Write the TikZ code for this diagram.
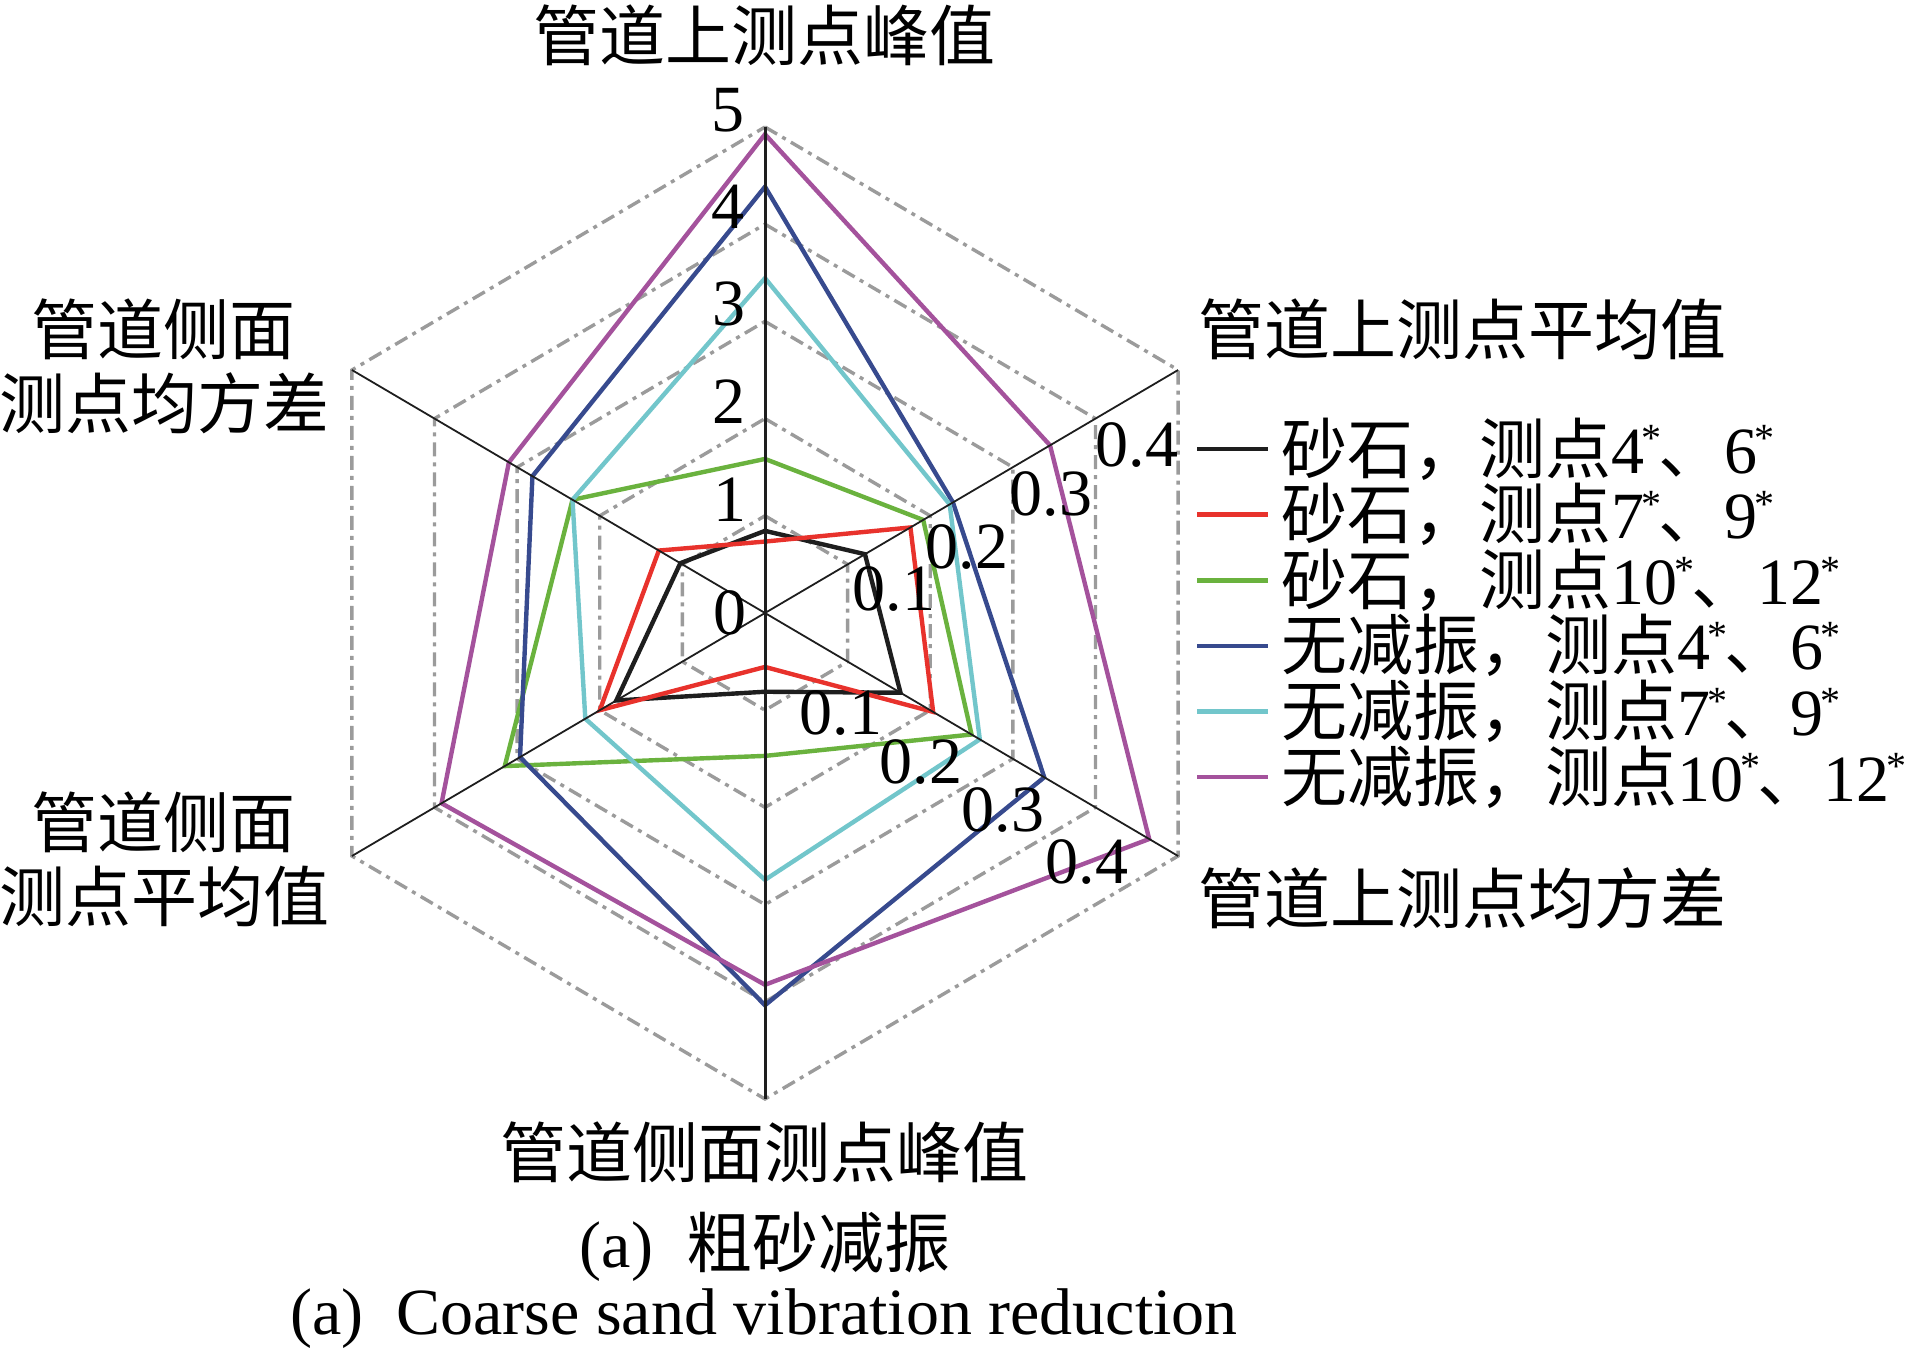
\documentclass[tikz,border=0pt]{standalone}
\usepackage{fontspec}
\setmainfont{Liberation Serif}
\newfontfamily\cjkf{Noto Sans CJK SC}
\newcommand\zh[1]{{\cjkf #1}}
\newcommand\astx{\kern-1.5pt\raisebox{0.32em}{\fontsize{20}{20}\selectfont *}\kern-1.5pt}
\definecolor{gridgray}{RGB}{155,155,155}
\definecolor{sblack}{RGB}{30,30,30}
\definecolor{sred}{RGB}{232,50,44}
\definecolor{sgreen}{RGB}{106,178,62}
\definecolor{sblue}{RGB}{55,74,142}
\definecolor{scyan}{RGB}{114,198,203}
\definecolor{smag}{RGB}{164,82,156}
\begin{document}
\begin{tikzpicture}[x=0.5pt,y=-0.5pt,
  font=\fontsize{33}{33}\selectfont,
  gridring/.style={draw=gridgray, line width=1.7pt, dash pattern=on 7pt off 3pt on 2pt off 3pt},
  axisv/.style={draw=sblack, line width=1.5pt},
  axisd/.style={draw=sblack, line width=0.9pt},
  series/.style={line width=2.2pt, line join=miter},
  legline/.style={line width=2.3pt},
  lbl/.style={inner sep=0pt, anchor=center},
  basel/.style={inner sep=0pt, anchor=base},
  legtxt/.style={inner sep=0pt, anchor=base west}
]
\useasboundingbox (0,0) rectangle (1910,1354);

\begin{scope}[shift={(765,613)}, x=238.5pt, y=243pt]
  \coordinate (O) at (0,0);
  \coordinate (A1) at (90:1);
  \coordinate (A2) at (30:1);
  \coordinate (A3) at (-30:1);
  \coordinate (A4) at (-90:1);
  \coordinate (A5) at (-150:1);
  \coordinate (A6) at (150:1);
  % grid rings
  \foreach \k in {1,...,5}
    \draw[gridring] (90:\k/5) -- (30:\k/5) -- (-30:\k/5) -- (-90:\k/5) -- (-150:\k/5) -- (150:\k/5) -- cycle;
  % series
  \draw[series, sblack] (90:0.169) -- (30:0.242) -- (-30:0.328) -- (-90:0.162) -- (-150:0.36) -- (150:0.205) -- cycle;
  \draw[series, sred] (90:0.147) -- (30:0.352) -- (-30:0.407) -- (-90:0.111) -- (-150:0.40) -- (150:0.257) -- cycle;
  \draw[series, sgreen] (90:0.317) -- (30:0.383) -- (-30:0.50) -- (-90:0.294) -- (-150:0.63) -- (150:0.466) -- cycle;
  \draw[series, sblue] (90:0.877) -- (30:0.455) -- (-30:0.676) -- (-90:0.807) -- (-150:0.593) -- (150:0.563) -- cycle;
  \draw[series, scyan] (90:0.689) -- (30:0.447) -- (-30:0.52) -- (-90:0.549) -- (-150:0.435) -- (150:0.466) -- cycle;
  \draw[series, smag] (90:0.985) -- (30:0.69) -- (-30:0.93) -- (-90:0.765) -- (-150:0.783) -- (150:0.62) -- cycle;
  % axes
  \draw[axisv] (A1) -- (A4);
  \draw[axisd] (A2) -- (A5);
  \draw[axisd] (A3) -- (A6);
\end{scope}

% tick labels, top axis
\node[lbl] (t5) at (728,110) {5};
\node[lbl] (t4) at (728,207) {4};
\node[lbl] (t3) at (729,304) {3};
\node[lbl] (t2) at (729,402) {2};
\node[lbl] (t1) at (730,500) {1};
\node[lbl] (t0) at (730,613) {0};
% upper right axis
\node[lbl] (u1) at (894,589) {0.1};
\node[lbl] (u2) at (967,547) {0.2};
\node[lbl] (u3) at (1051,494) {0.3};
\node[lbl] (u4) at (1137,445) {0.4};
% lower right axis
\node[lbl] (d1) at (841,713) {0.1};
\node[lbl] (d2) at (921,762) {0.2};
\node[lbl] (d3) at (1003,810) {0.3};
\node[lbl] (d4) at (1087,862) {0.4};

% axis titles
\node[lbl] (nTop) at (764,35) {\zh{管道上测点峰值}};
\node[lbl] (nUR) at (1462,329) {\zh{管道上测点平均值}};
\node[lbl] (nLR) at (1462,898) {\zh{管道上测点均方差}};
\node[lbl] (nBot) at (764,1152) {\zh{管道侧面测点峰值}};
\node[lbl] (nUL1) at (164,329) {\zh{管道侧面}};
\node[lbl] (nUL2) at (164,403) {\zh{测点均方差}};
\node[lbl] (nLL1) at (164,822) {\zh{管道侧面}};
\node[lbl] (nLL2) at (164,896) {\zh{测点平均值}};

% captions
\node[basel] (cap1) at (765,1267) {(a)\hspace{0.5em}\zh{粗砂减振}};
\node[basel] (cap2) at (764,1334) {(a)\hspace{0.5em}Coarse sand vibration reduction};

% legend
\foreach \i/\c in {0/sblack,1/sred,2/sgreen,3/sblue,4/scyan,5/smag}{
  \coordinate (La\i) at (1197,{449+65.6*\i});
  \coordinate (Lb\i) at (1268,{449+65.6*\i});
  \draw[legline, \c] (La\i) -- (Lb\i);
}
\node[legtxt] (g1) at (1281,473) {\zh{砂石，测点}4\astx\zh{、}6\astx};
\node[legtxt] (g2) at (1281,538.6) {\zh{砂石，测点}7\astx\zh{、}9\astx};
\node[legtxt] (g3) at (1281,604.2) {\zh{砂石，测点}10\astx\zh{、}12\astx};
\node[legtxt] (g4) at (1281,669.8) {\zh{无减振，测点}4\astx\zh{、}6\astx};
\node[legtxt] (g5) at (1281,735.4) {\zh{无减振，测点}7\astx\zh{、}9\astx};
\node[legtxt] (g6) at (1281,801) {\zh{无减振，测点}10\astx\zh{、}12\astx};
\end{tikzpicture}
\end{document}
